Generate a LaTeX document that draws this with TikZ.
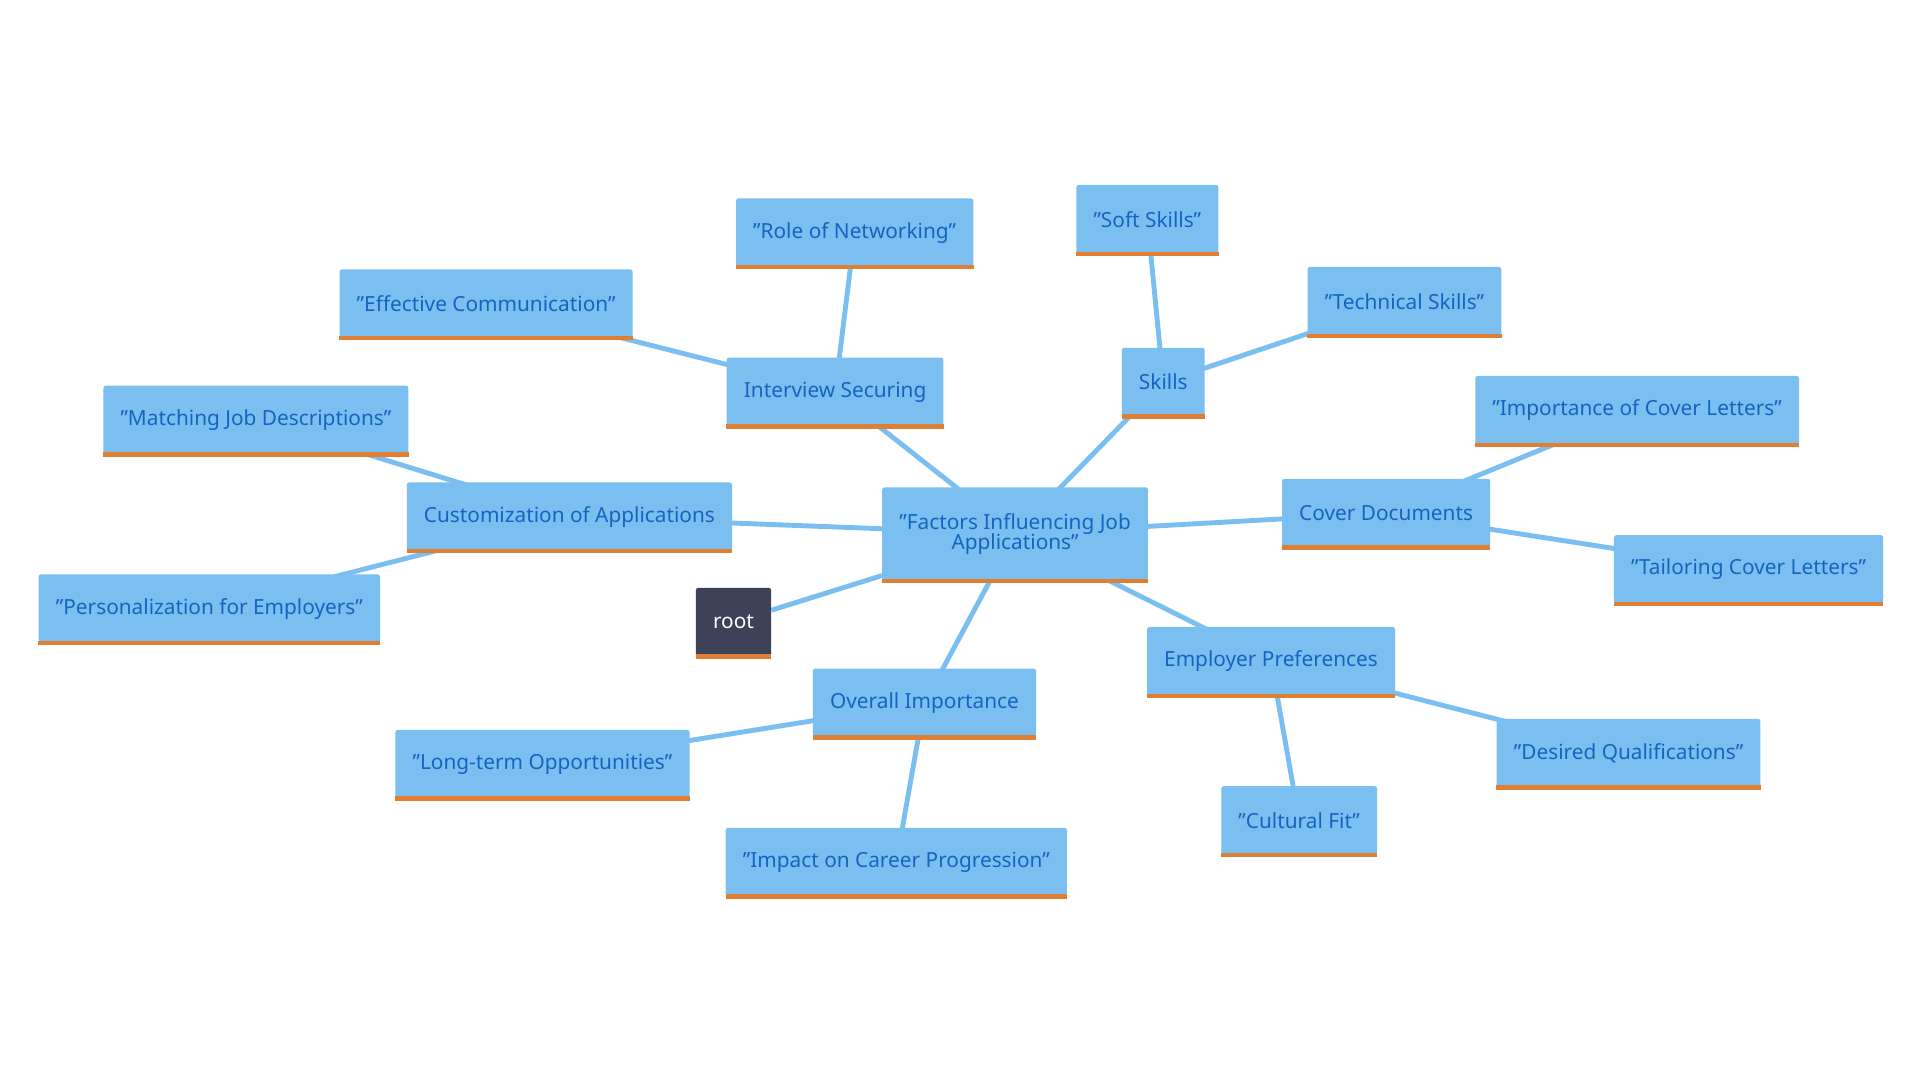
\documentclass[tikz,border=0pt]{standalone}
\usepackage{fontspec}
\setmainfont{Noto Sans}
\usetikzlibrary{backgrounds}
\definecolor{boxblue}{HTML}{7BBFF1}
\definecolor{txtblue}{HTML}{1565C0}
\definecolor{edgeorange}{HTML}{E07F32}
\definecolor{rootdark}{HTML}{3E4259}
\tikzset{
  leaf/.style={fill=boxblue, text=txtblue, minimum height=56pt, inner xsep=14pt,
    rounded corners=2pt, font=\fontsize{17}{19}\selectfont, align=center,
    append after command={(\tikzlastnode.south west) edge[line width=3.5pt, edgeorange, shorten <=0pt] (\tikzlastnode.south east)}},
  rootbox/.style={leaf, fill=rootdark, text=white},
  link/.style={draw=boxblue, line width=4pt}
}
\begin{document}
\begin{tikzpicture}[x=1pt,y=-1pt]
\useasboundingbox (0,0) rectangle (1568,882);

\node[leaf, minimum height=76pt] (main) at (829,436) {"Factors Influencing Job\\[-3pt]Applications"};
\node[rootbox] (root) at (599,508) {root};

\node[leaf] (interview) at (682,320) {Interview Securing};
\node[leaf] (network) at (698,190) {"Role of Networking"};
\node[leaf] (commun) at (397,248) {"Effective Communication"};

\node[leaf] (skills) at (950,312) {Skills};
\node[leaf] (soft) at (937,179) {"Soft Skills"};
\node[leaf] (tech) at (1147,246) {"Technical Skills"};

\node[leaf] (cover) at (1132,419) {Cover Documents};
\node[leaf] (impcover) at (1337,335) {"Importance of Cover Letters"};
\node[leaf] (tailor) at (1428,465) {"Tailoring Cover Letters"};

\node[leaf] (custom) at (465,422) {Customization of Applications};
\node[leaf] (matching) at (209,343) {"Matching Job Descriptions"};
\node[leaf] (person) at (171,497) {"Personalization for Employers"};

\node[leaf] (employer) at (1038,540) {Employer Preferences};
\node[leaf] (desired) at (1330,615) {"Desired Qualifications"};
\node[leaf] (cultural) at (1061,670) {"Cultural Fit"};

\node[leaf] (overall) at (755,574) {Overall Importance};
\node[leaf] (longterm) at (443,624) {"Long-term Opportunities"};
\node[leaf] (impact) at (732,704) {"Impact on Career Progression"};

\begin{scope}[on background layer]
  \draw[link] (main) -- (root);
  \foreach \a/\b in {main/interview, interview/network, interview/commun,
      main/skills, skills/soft, skills/tech,
      main/cover, cover/impcover, cover/tailor,
      main/custom, custom/matching, custom/person,
      main/employer, employer/desired, employer/cultural,
      main/overall, overall/longterm, overall/impact}
    \draw[link] (\a.center) -- (\b.center);
\end{scope}
\end{tikzpicture}
\end{document}
